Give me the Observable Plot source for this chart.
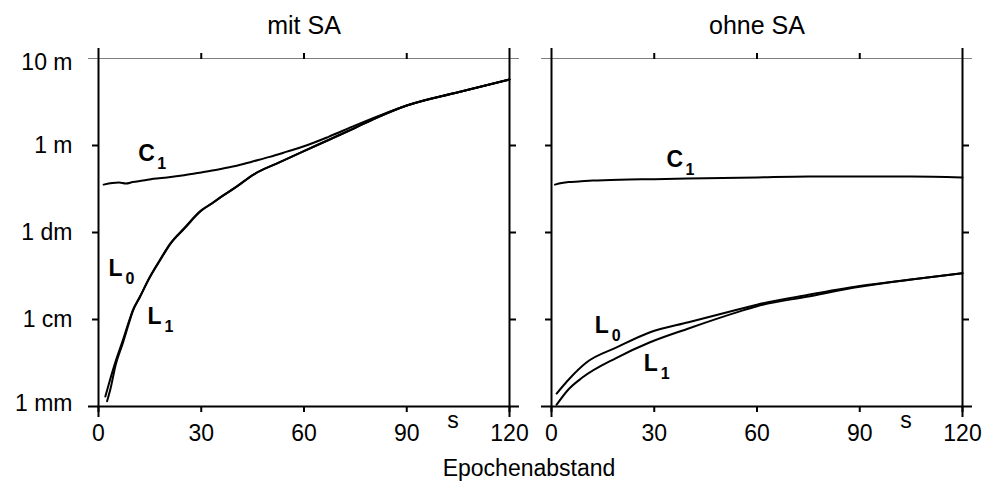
<!DOCTYPE html>
<html><head><meta charset="utf-8">
<script src="https://cdn.jsdelivr.net/npm/d3@7"></script>
<script src="https://cdn.jsdelivr.net/npm/@observablehq/plot@0.6"></script>
<style>
body{margin:0;background:#fff;font-family:"Liberation Sans",Arial,sans-serif;color:#000}
#cap{width:987px;box-sizing:border-box;padding-left:71px;text-align:center;font-size:23px;line-height:26px;height:26px}
</style></head><body><div id="chart"></div><div id="cap">Epochenabstand</div>
<script>
// ---- data ----
const panels = ["mit SA", "ohne SA"];
const yTickValues = [10, 1, 0.1, 0.01, 0.001];
const yTickLabels = ["10 m", "1 m", "1 dm", "1 cm", "1 mm"];
const xTickValues = [0, 30, 60, 90, 120];
const xUnit = "s";

const mitSA_C1_s = [1.5, 4, 6, 8, 10, 13, 16, 20, 25, 30, 35, 40, 45, 50, 55, 60, 67, 75, 82, 90, 105, 120];
const mitSA_C1_v = [0.355, 0.37, 0.375, 0.365, 0.38, 0.395, 0.415, 0.43, 0.455, 0.49, 0.53, 0.58, 0.655, 0.74, 0.85, 0.98, 1.25, 1.7, 2.2, 2.88, 4.1, 5.74];
const mitSA_L0_s = [2, 3, 5, 7, 9, 10, 12, 15, 18, 21, 25, 30, 33, 36, 40, 45.5, 52, 59, 67, 75, 82, 90, 105, 120];
const mitSA_L0_v = [0.0013, 0.0018, 0.0033, 0.0056, 0.0098, 0.0127, 0.018, 0.031, 0.049, 0.075, 0.112, 0.18, 0.215, 0.26, 0.33, 0.47, 0.62, 0.83, 1.15, 1.6, 2.15, 2.88, 4.1, 5.74];
const mitSA_L1_s = [2.5, 3.5, 5, 7, 9, 10, 12, 15, 18, 21, 25, 30, 33, 36, 40, 45.5, 52, 59, 67, 75, 82, 90, 105, 120];
const mitSA_L1_v = [0.00115, 0.0016, 0.003, 0.0052, 0.0094, 0.0124, 0.0178, 0.0305, 0.048, 0.074, 0.11, 0.178, 0.214, 0.26, 0.33, 0.47, 0.62, 0.83, 1.15, 1.6, 2.15, 2.88, 4.1, 5.74];

const ohneSA_C1_s = [1, 3, 5, 8, 12, 20, 30, 45, 60, 75, 90, 105, 120];
const ohneSA_C1_v = [0.355, 0.37, 0.38, 0.386, 0.395, 0.405, 0.41, 0.42, 0.43, 0.44, 0.44, 0.44, 0.43];
const ohneSA_L0_s = [1.5, 5.3, 10.2, 19, 28.6, 40, 55, 60, 75, 90, 105, 120];
const ohneSA_L0_v = [0.00141, 0.0021, 0.0032, 0.00477, 0.0071, 0.0093, 0.0132, 0.0148, 0.0192, 0.0242, 0.0288, 0.034];
const ohneSA_L1_s = [1.5, 5, 9, 19, 28.6, 40, 55, 60, 75, 90, 105, 120];
const ohneSA_L1_v = [0.00105, 0.00158, 0.00215, 0.00363, 0.00544, 0.00789, 0.0124, 0.0142, 0.0184, 0.0238, 0.0288, 0.034];

const labelPanels = ["mit SA", "mit SA", "mit SA", "ohne SA", "ohne SA", "ohne SA"];
const labelLetters = ["C", "L", "L", "C", "L", "L"];
const labelSubs = ["1", "0", "1", "1", "0", "1"];
const labelS = [11.6, 2.9, 14.3, 33.6, 12.6, 26.9];
const labelV = [0.8, 0.0386, 0.0108, 0.69, 0.0084, 0.00308];

// ---- build tables ----
const rows = [];
function add(panel, series, s, v) { s.forEach((x, i) => rows.push({panel, series, s: x, v: v[i]})); }
add("mit SA", "C1", mitSA_C1_s, mitSA_C1_v);
add("mit SA", "L0", mitSA_L0_s, mitSA_L0_v);
add("mit SA", "L1", mitSA_L1_s, mitSA_L1_v);
add("ohne SA", "C1", ohneSA_C1_s, ohneSA_C1_v);
add("ohne SA", "L0", ohneSA_L0_s, ohneSA_L0_v);
add("ohne SA", "L1", ohneSA_L1_s, ohneSA_L1_v);
const labels = labelPanels.map((p, i) => ({panel: p, letter: labelLetters[i], sub: labelSubs[i], s: labelS[i], v: labelV[i]}));

const xDomain = [d3.min(xTickValues), d3.max(xTickValues)];
const yDomain = [d3.min(yTickValues), d3.max(yTickValues)];
const innerY = yTickValues.filter(d => d !== yDomain[0] && d !== yDomain[1]);
const innerX = xTickValues.filter(d => d !== xDomain[0] && d !== xDomain[1]);
const fmtY = d => yTickLabels[yTickValues.indexOf(d)];

// frame extension (style): ~10px beyond the plotting area
const panelW = 412, decadePx = 87;
const extX = 10 * (xDomain[1] - xDomain[0]) / panelW;
const extTop = Math.pow(10, 10 / decadePx), extBot = Math.pow(10, 11 / decadePx);

const F = "Liberation Sans, Arial, sans-serif";
const chart = Plot.plot({
  width: 987, height: 455,
  marginTop: 58, marginBottom: 49, marginLeft: 97, marginRight: 24,
  style: {fontFamily: F, color: "#000", background: "#fff", overflow: "visible"},
  fx: {domain: panels, paddingInner: 0.0925, paddingOuter: 0, axis: null},
  x: {domain: xDomain, axis: null},
  y: {type: "log", domain: yDomain, axis: null},
  marks: [
    Plot.ruleY([yDomain[1]], {x1: xDomain[0] - extX, x2: xDomain[1] + extX, stroke: "#808080", strokeWidth: 1}),
    Plot.ruleY([yDomain[0]], {x1: xDomain[0] - extX, x2: xDomain[1] + extX, stroke: "#000", strokeWidth: 2}),
    Plot.ruleX(xDomain, {y1: yDomain[0] / extBot, y2: yDomain[1] * extTop, stroke: "#000", strokeWidth: 2}),
    Plot.axisY(innerY, {anchor: "left", tickSize: 6, tickFormat: () => "", facetAnchor: null, strokeWidth: 2, label: null}),
    Plot.axisY(innerY, {anchor: "right", tickSize: 6, tickFormat: () => "", facetAnchor: null, strokeWidth: 2, label: null}),
    Plot.axisX(innerX, {anchor: "top", tickSize: 6, tickFormat: () => "", facetAnchor: null, strokeWidth: 2, label: null}),
    Plot.axisX(xTickValues, {anchor: "bottom", tickSize: 6, tickPadding: 12, fontSize: 23, facetAnchor: null, strokeWidth: 2, label: null}),
    Plot.axisY([yDomain[1]], {anchor: "left", tickSize: 0, tickPadding: 26, tickFormat: fmtY, fontSize: 23, dy: 4, facetAnchor: "left", label: null}),
    Plot.axisY(innerY, {anchor: "left", tickSize: 0, tickPadding: 26, tickFormat: fmtY, fontSize: 23, dy: 0, facetAnchor: "left", label: null}),
    Plot.axisY([yDomain[0]], {anchor: "left", tickSize: 0, tickPadding: 26, tickFormat: fmtY, fontSize: 23, dy: -3, facetAnchor: "left", label: null}),
    Plot.text([xUnit], {x: 103.5, frameAnchor: "bottom", lineAnchor: "middle", dy: 14, fontSize: 23, text: d => d}),
    Plot.text(panels, {fx: d => d, text: d => d, frameAnchor: "top", lineAnchor: "middle", dy: -33, fontSize: 25}),
    Plot.line(rows, {fx: "panel", x: "s", y: "v", z: "series", stroke: "#000", strokeWidth: 2, curve: "monotone-x"}),
    Plot.text(labels, {fx: "panel", x: "s", y: "v", text: "letter", textAnchor: "start", fontWeight: "bold", fontSize: 23}),
    Plot.text(labels.filter(d => d.letter === "C"), {fx: "panel", x: "s", y: "v", text: "sub", textAnchor: "start", fontWeight: "bold", fontSize: 16, dx: 19, dy: 10}),
    Plot.text(labels.filter(d => d.letter === "L"), {fx: "panel", x: "s", y: "v", text: "sub", textAnchor: "start", fontWeight: "bold", fontSize: 16, dx: 17, dy: 10})
  ]
});
document.getElementById("chart").appendChild(chart);
</script></body></html>
